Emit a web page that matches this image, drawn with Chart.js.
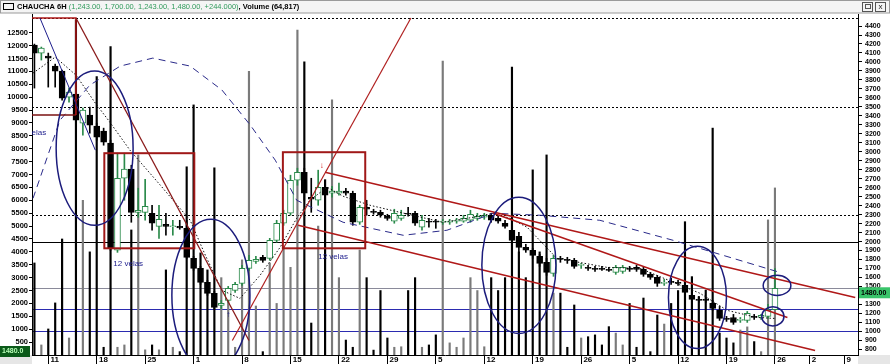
<!DOCTYPE html>
<html>
<head>
<meta charset="utf-8">
<script src="https://cdn.jsdelivr.net/npm/chart.js@4.4.1/dist/chart.umd.min.js"></script>
<style>
  body { margin: 0; background: #fff; }
  #wrap { width: 890px; height: 364px; }
</style>
</head>
<body>
<div id="wrap"><canvas id="chart" width="890" height="364"></canvas></div>
<script>
// daily candles, index 0 = Dec 9 ... 107 = Mar 26
const opens = [4188,4099,4066,3954,3898,3608,3642,3319,3408,3285,3229,3096,1903,2705,2806,2326,2326,2315,2170,2192,
  2165,2170,2148,1813,1702,1546,1423,1289,1345,1457,1535,1702,1780,1825,1813,2014,2204,2315,2683,2772,
  2494,2460,2605,2538,2538,2561,2538,2215,2382,2337,2326,2282,2226,2259,2315,2315,2159,2226,2226,2215,
  2215,2226,2226,2237,2259,2271,2293,2259,2204,2126,2059,1936,1903,1836,1769,1646,1813,1802,1791,1735,
  1713,1702,1702,1691,1657,1668,1702,1713,1691,1635,1602,1534,1557,1546,1512,1401,1356,1356,1312,1234,
  1144,1155,1122,1122,1167,1155,1167,1243];
const highs = [4199,4166,4099,3976,3910,3709,3687,3486,3497,3319,3263,3129,2984,2984,2850,2594,2694,2404,2404,2315,
  2237,2237,2237,1836,1724,1568,1446,1345,1501,1546,1735,1847,1836,1847,2036,2237,2349,2739,2817,2817,
  2705,2795,2650,2616,2650,2594,2561,2404,2460,2360,2349,2304,2360,2349,2382,2337,2293,2259,2248,2248,
  2248,2259,2293,2349,2315,2315,2315,2282,2237,2170,2103,1970,1925,1858,1813,1847,1836,1825,1813,1757,
  1735,1724,1724,1713,1735,1735,1724,1735,1713,1657,1624,1579,1590,1568,1546,1434,1389,1378,1345,1278,
  1167,1189,1155,1222,1189,1190,1300,1700];
const lows = [3709,4021,3720,3720,3575,3553,3296,3185,3207,3129,3073,1903,1880,2460,2215,2270,2237,2126,2036,2070,
  2070,2137,1813,1680,1523,1401,1245,1256,1323,1434,1512,1680,1757,1769,1791,1992,2181,2293,2627,2460,
  2326,2404,2460,2494,2516,2516,2181,2192,2293,2304,2271,2237,2204,2237,2282,2181,2126,2159,2148,2192,
  2192,2204,2215,2215,2237,2248,2215,2204,2148,1992,1880,1880,1813,1724,1624,1613,1769,1757,1702,1702,
  1680,1668,1680,1668,1635,1646,1668,1668,1613,1579,1501,1512,1523,1512,1401,1334,1323,1323,1234,1122,
  1111,1078,1100,1100,1133,1133,1144,1243];
const closes = [4099,4155,4043,3898,3597,3664,3352,3464,3296,3162,3107,1925,2705,2806,2326,2349,2393,2204,2248,2170,
  2176,2153,1824,1702,1546,1423,1267,1312,1479,1523,1702,1791,1802,1791,2014,2204,2315,2683,2772,2538,
  2471,2605,2516,2561,2561,2538,2215,2382,2360,2326,2293,2259,2315,2293,2304,2204,2237,2215,2215,2226,
  2226,2237,2259,2304,2282,2293,2237,2226,2170,2014,1936,1903,1847,1757,1657,1813,1802,1791,1724,1746,
  1702,1691,1691,1680,1713,1713,1691,1691,1635,1602,1534,1546,1546,1534,1434,1356,1345,1345,1256,1144,
  1133,1100,1133,1200,1155,1178,1236,1480];
const volumes = [3570,390,1010,2020,4500,660,13000,6000,4000,10800,300,11960,300,390,4850,7760,200,390,200,3300,
  300,130,7300,9700,3960,3300,7260,3000,2500,300,3690,11000,1900,130,3570,2000,4190,3400,12600,11370,
  1240,5000,6800,9900,3000,580,300,4070,3000,190,2500,660,300,320,2500,3000,300,390,780,11400,
  470,300,660,3000,2500,320,3000,2500,3000,11170,4000,3000,7180,4000,7760,2400,2400,300,1940,660,
  710,780,390,1100,850,390,2000,300,2210,130,1550,1200,2000,2500,5170,3040,2260,2520,8800,850,
  660,470,970,1090,520,130,5240,6480];

// x axis (day index) and tick labels
const tickDays = [2,9,16,23,30,37,44,51,58,65,72,79,86,93,100,107,112,117];
const tickLabels = ['11','18','25','1','8','15','22','29','5','12','19','26','5','12','19','26','2','9'];
const volTicks = [500,1000,1500,2000,2500,3000,3500,4000,4500,5000,5500,6000,6500,7000,7500,8000,8500,9000,9500,10000,10500,11000,11500,12000,12500];
const priceTicks = [4400,4300,4200,4100,4000,3900,3800,3700,3600,3500,3400,3300,3200,3100,3000,2900,2800,2700,2600,
  2500,2400,2300,2200,2100,2000,1900,1800,1700,1600,1500,1400,1300,1200,1100,1000,900,800];

// horizontal levels on the price axis
const levels = [
  { price: 4490, color: '#000', dash: [2, 2] },
  { price: 3500, color: '#000', dash: [2, 2] },
  { price: 2300, color: '#000', dash: [2, 2] },
  { price: 2000, color: '#000', dash: [] },
  { price: 1480, color: '#8a8a9a', dash: [] },
  { price: 1250, color: '#2b2bb0', dash: [] },
  { price: 1000, color: '#2b2bb0', dash: [] }
];

// drawn objects (day, price)
const trendLines = [
  { pts: [[6.0, 3408], [-1, 3408]], color: '#7a1010', w: 1.5 },
  { pts: [[-1, 4489], [6.0, 4489], [6.0, 3408]], color: '#b01818', w: 1.5 },
  { pts: [[6.0, 4489], [31.0, 899]], color: '#8a1a1a', w: 1.3 },
  { pts: [[28.6, 899], [54.4, 4489]], color: '#b02020', w: 1.2 },
  { pts: [[42.0, 2772], [118.6, 1378]], color: '#b01818', w: 1.5 },
  { pts: [[66.3, 2315], [108.8, 1155]], color: '#b01818', w: 1.5 },
  { pts: [[38.1, 2181], [112.8, 788]], color: '#b01818', w: 1.5 },
  { pts: [[0.8, 4489], [8.8, 3018]], color: '#1c1c8c', w: 1 }
];
const boxes = [
  { d0: 10.1, d1: 23.1, p0: 2984, p1: 1925 },
  { d0: 35.9, d1: 47.8, p0: 2995, p1: 1925 }
];
const ellipses = [
  { d: 8.7, p: 3040, rd: 5.56, rp: 859 },
  { d: 25.5, p: 1401, rd: 5.64, rp: 847 },
  { d: 70.0, p: 1735, rd: 5.35, rp: 758 },
  { d: 95.8, p: 1378, rd: 4.19, rp: 569 },
  { d: 107.3, p: 1512, rd: 2.0, rp: 112 },
  { d: 106.7, p: 1167, rd: 1.6, rp: 106 }
];
const dashedArc = [[-0.2,2482],[3.7,3352],[8.0,3742],[12.4,3954],[17.1,4043],[22.5,3954],[27.1,3687],[31.2,3296],
  [34.8,2906],[37.9,2460],[44.6,2215],[53.3,2070],[59.6,2126],[66.3,2315],[73.1,2293],[81.7,2237],[92.3,2014],[107.7,1657]];
const dottedAvg = [[-0.2,3876],[3.0,4054],[6.0,3854],[8.8,3542],[10.9,3330],[13.8,3018],[18.2,2627],[22.5,2237],
  [24.7,1847],[27.1,1457],[29.7,1367],[32.6,1624],[35.5,1936],[37.9,2260],[39.8,2460],[42.3,2605],[44.6,2505],
  [48.5,2404],[52.8,2326],[59.0,2215],[63.4,2270],[66.3,2315],[68.7,2259],[71.2,2159],[75.5,1813],[82.7,1713],
  [87.5,1702],[96.2,1423],[100.1,1234],[104.4,1155],[107.0,1144]];
const notes = [
  { d: 11.4, p: 1758, text: '12 velas', color: '#1c1c8c', align: 'left' },
  { d: 41.0, p: 1836, text: '12 velas', color: '#1c1c8c', align: 'left' },
  { d: 1.7, p: 3207, text: 'velas', color: '#1c1c8c', align: 'right' },
  { d: 41.5, p: 2839, text: '\u2193', color: '#d01010', align: 'center' },
  { d: 28.0, p: 1189, text: '\u2191', color: '#1c1c8c', align: 'center' }
];

const titleParts = [
  { text: 'CHAUCHA 6H ', color: '#000', bold: true },
  { text: '(1,243.00, 1,700.00, 1,243.00, 1,480.00, +244.000)', color: '#2f9a5a', bold: false },
  { text: ', Volume (64,817)', color: '#000', bold: true }
];

const days = opens.map((o, i) => i);
const isUp = days.map(i => closes[i] >= opens[i]);
const upColor = '#2a8a4a';

const frame = {
  id: 'frame',
  beforeDraw(chart) {
    const { ctx, chartArea: a } = chart;
    ctx.save();
    ctx.fillStyle = '#fff';
    ctx.fillRect(0, 0, chart.width, chart.height);
    // title bar
    ctx.fillStyle = '#f4f4f4';
    ctx.fillRect(0, 0, chart.width, a.top - 1);
    ctx.strokeStyle = '#9a9a9a';
    ctx.strokeRect(0.5, 0.5, chart.width - 1, a.top - 1.5);
    ctx.strokeStyle = '#000';
    ctx.strokeRect(3.5, 3.5, 10, 6);
    let x = 17;
    ctx.textBaseline = 'middle';
    titleParts.forEach(t => {
      ctx.font = (t.bold ? 'bold ' : '') + '7.5px "Liberation Sans"';
      ctx.fillStyle = t.color;
      ctx.fillText(t.text, x, 7);
      x += ctx.measureText(t.text).width;
    });
    // window buttons
    ctx.strokeStyle = '#555';
    ctx.strokeRect(862.5, 2.5, 10, 9);
    ctx.strokeRect(875.5, 2.5, 10, 9);
    ctx.font = '8px "Liberation Sans"';
    ctx.fillStyle = '#222';
    ctx.textAlign = 'center';
    ctx.fillText('x', 880.5, 7);
    ctx.strokeRect(865.5, 4.5, 5, 4);
    // axis strips
    ctx.fillStyle = '#e6e6e6';
    ctx.fillRect(0, a.bottom, a.left, chart.height - a.bottom);
    ctx.fillRect(a.right, a.bottom, chart.width - a.right, chart.height - a.bottom);
    // levels
    ctx.beginPath(); ctx.rect(a.left, a.top, a.width, a.height); ctx.clip();
    const yp = chart.scales.yp;
    levels.forEach(l => {
      const y = Math.round(yp.getPixelForValue(l.price)) + 0.5;
      ctx.strokeStyle = l.color; ctx.lineWidth = 1; ctx.setLineDash(l.dash);
      ctx.beginPath(); ctx.moveTo(a.left, y); ctx.lineTo(a.right, y); ctx.stroke();
    });
    ctx.restore();
  },
  afterDatasetsDraw(chart) {
    const { ctx, chartArea: a, scales: { x, yp } } = chart;
    const px = d => x.getPixelForValue(d), py = p => yp.getPixelForValue(p);
    ctx.save();
    ctx.beginPath(); ctx.rect(a.left, a.top, a.width, a.height); ctx.clip();
    // dotted average
    ctx.strokeStyle = '#111'; ctx.lineWidth = 1; ctx.setLineDash([1.5, 2]);
    ctx.beginPath();
    dottedAvg.forEach((pt, i) => i ? ctx.lineTo(px(pt[0]), py(pt[1])) : ctx.moveTo(px(pt[0]), py(pt[1])));
    ctx.stroke();
    // dashed arc
    ctx.strokeStyle = '#2a2a8a'; ctx.setLineDash([7, 5]);
    ctx.beginPath();
    dashedArc.forEach((pt, i) => i ? ctx.lineTo(px(pt[0]), py(pt[1])) : ctx.moveTo(px(pt[0]), py(pt[1])));
    ctx.stroke();
    ctx.setLineDash([]);
    trendLines.forEach(t => {
      ctx.strokeStyle = t.color; ctx.lineWidth = t.w;
      ctx.beginPath();
      t.pts.forEach((pt, i) => i ? ctx.lineTo(px(pt[0]), py(pt[1])) : ctx.moveTo(px(pt[0]), py(pt[1])));
      ctx.stroke();
    });
    ctx.strokeStyle = '#a01818'; ctx.lineWidth = 2;
    boxes.forEach(b => {
      ctx.strokeRect(px(b.d0), py(b.p0), px(b.d1) - px(b.d0), py(b.p1) - py(b.p0));
    });
    ctx.strokeStyle = '#1c1c7c'; ctx.lineWidth = 1.5;
    ellipses.forEach(e => {
      const cx = px(e.d), cy = py(e.p);
      ctx.beginPath();
      ctx.ellipse(cx, cy, px(e.d + e.rd) - cx, cy - py(e.p + e.rp), 0, 0, Math.PI * 2);
      ctx.stroke();
    });
    ctx.font = '8px "Liberation Sans"';
    ctx.textBaseline = 'middle';
    notes.forEach(n => {
      ctx.fillStyle = n.color; ctx.textAlign = n.align;
      ctx.fillText(n.text, px(n.d), py(n.p));
    });
    ctx.restore();
    // price marker boxes
    ctx.save();
    const last = closes[closes.length - 1];
    const yl = yp.getPixelForValue(last) + 4;
    ctx.fillStyle = '#39c46a';
    ctx.fillRect(a.right + 1, yl - 5, 31, 11);
    ctx.fillStyle = '#000'; ctx.font = 'bold 7px "Liberation Sans"';
    ctx.textAlign = 'left'; ctx.textBaseline = 'middle';
    ctx.fillText(last.toFixed(2), a.right + 3, yl + 0.5);
    ctx.fillStyle = '#0b5a1a';
    ctx.fillRect(0, a.bottom - 9, a.left - 2, 11);
    ctx.fillStyle = '#b8ffb8';
    ctx.fillText(last.toFixed(1), 2, a.bottom - 3.5);
    ctx.restore();
  }
};

new Chart(document.getElementById('chart'), {
  type: 'bar',
  data: {
    datasets: [
      {
        label: 'Body',
        data: days.map(i => ({ x: i, y: [opens[i], closes[i]] })),
        yAxisID: 'yp',
        backgroundColor: isUp.map(u => u ? '#fff' : '#000'),
        borderColor: isUp.map(u => u ? upColor : '#000'),
        borderWidth: 1,
        borderSkipped: false,
        barThickness: 6,
        grouped: false,
        order: 1
      },
      {
        label: 'Wick',
        data: days.map(i => ({ x: i, y: [lows[i], highs[i]] })),
        yAxisID: 'yp',
        backgroundColor: isUp.map(u => u ? upColor : '#000'),
        barThickness: 1,
        grouped: false,
        order: 2
      },
      {
        label: 'Volume',
        data: days.map(i => ({ x: i, y: volumes[i] })),
        yAxisID: 'yv',
        backgroundColor: isUp.map(u => u ? '#7a7a7a' : '#000'),
        barThickness: 1.5,
        grouped: false,
        order: 3
      }
    ]
  },
  options: {
    responsive: false,
    animation: false,
    devicePixelRatio: 1,
    layout: { padding: { top: 14, left: 0, right: 0, bottom: 0 } },
    plugins: { legend: { display: false }, tooltip: { enabled: false } },
    scales: {
      x: {
        type: 'linear',
        offset: false,
        min: -0.35,
        max: 119,
        afterBuildTicks: s => { s.ticks = tickDays.map(v => ({ value: v })); },
        afterFit: s => { s.height = 9; },
        ticks: {
          autoSkip: false, maxRotation: 0, align: 'start', padding: -9,
          color: '#000', font: { size: 8, weight: 'bold', family: 'Liberation Sans' },
          callback: (v) => ' ' + tickLabels[tickDays.indexOf(v)]
        },
        grid: { offset: false, drawOnChartArea: false, drawTicks: true, tickLength: 9, color: '#000' },
        border: { color: '#000' }
      },
      yv: {
        position: 'left',
        min: 0,
        max: 13226,
        afterBuildTicks: s => { s.ticks = volTicks.map(v => ({ value: v })); },
        afterFit: s => { s.width = 32; },
        ticks: { autoSkip: false, padding: 1, color: '#000', font: { size: 7.5, weight: 'bold', family: 'Liberation Sans' },
          callback: v => String(v) },
        grid: { drawOnChartArea: false, tickLength: 3, color: '#000' },
        border: { color: '#000' }
      },
      yp: {
        position: 'right',
        min: 737,
        max: 4534,
        afterBuildTicks: s => { s.ticks = priceTicks.map(v => ({ value: v })); },
        afterFit: s => { s.width = 32; },
        ticks: { autoSkip: false, padding: 3, color: '#000', font: { size: 7, weight: 'bold', family: 'Liberation Sans' },
          callback: v => String(v) },
        grid: { drawOnChartArea: false, tickLength: 4, color: '#000' },
        border: { color: '#000' }
      }
    }
  },
  plugins: [frame]
});
</script>
</body>
</html>
